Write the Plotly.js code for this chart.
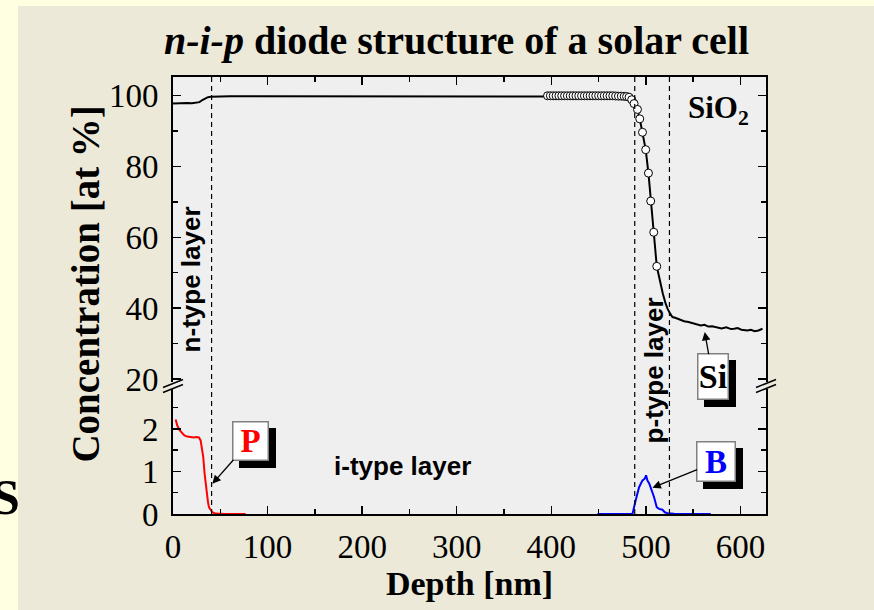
<!DOCTYPE html>
<html><head><meta charset="utf-8">
<script src="https://cdn.plot.ly/plotly-3.0.1.min.js"></script>
<style>
html,body{margin:0;padding:0;width:874px;height:610px;overflow:hidden;background:#ffffe1;}
#bg{position:absolute;left:18px;top:6px;right:0;bottom:0;background:#ece9d8;}
#chart{position:absolute;left:0;top:0;width:874px;height:610px;}
</style></head><body><div id="bg"></div><div id="chart"></div>
<script>
// Si concentration (upper axis), line
const siDepth = [0,5,10,15,20,25,28,31,34,37,40,44,50,60,80,100,120,140,160,200,250,300,350,400,440,465,471,477,479.6,482.2,485.0,487.5,491.1,493.5,496.4,499.8,502.7,505.1,508.3,511.5,515,518,521,523,526,528.1,531,535,540.4,545,550,555,558,562,566,570,575.6,580,585,590,593.2,597,601,604,607.3,611,615,619,621.4,623.3];
const siConc  = [97.7,97.8,97.8,97.9,97.8,97.9,98.1,98.7,99.2,99.5,99.6,99.7,99.7,99.8,99.8,99.9,99.8,99.9,99.8,99.9,99.9,99.9,99.9,99.9,99.9,99.9,99.8,99.8,99.7,99.5,98.8,97.7,96.05,93.4,89.6,84.7,78.1,70.2,61.4,51.8,47.3,44.0,41.2,39.8,38.3,37.5,37.3,36.9,36.3,36.1,35.7,35.3,35.1,35.3,34.8,34.9,34.5,34.3,34.6,34.1,34.2,34.4,33.9,33.8,33.7,33.9,33.5,33.7,33.9,34.2];
// Si measured points (open circles)
const circDepth = [396,399,402,405,408,411,414,417,420,423,426,429,432,435,438,441,444,447,450,453,456,459,462,465,468,471,474,477,479.6,482.2,485.0,487.5,491.1,493.5,496.4,499.8,502.7,505.1,508.3,511.5];
const circConc  = [99.9,99.9,99.9,99.9,99.9,99.9,99.9,99.9,99.9,99.9,99.9,99.9,99.9,99.9,99.9,99.9,99.9,99.9,99.9,99.9,99.9,99.9,99.9,99.9,99.85,99.8,99.8,99.75,99.7,99.5,98.8,97.7,96.05,93.4,89.6,84.7,78.1,70.2,61.4,51.8];
// P concentration (lower axis)
const pDepth = [2.8,4.5,7,9.8,12,15,18,22,25,27.4,29.2,30.5,32,33.4,34.5,35.5,37,38,40,41.5,44,46.8,55,65,76.8];
const pConc  = [2.22,2.08,1.97,1.89,1.85,1.82,1.81,1.80,1.81,1.80,1.73,1.58,1.34,0.95,0.70,0.48,0.28,0.16,0.08,0.04,0.02,0.01,0.0,0.0,0.0];
// B concentration (lower axis)
const bDepth = [448.7,470,485.8,489.2,492.8,496.4,498.8,500.2,501.6,503.5,505.1,508.6,511.5,514,517.5,520,522.8,529.8,545,568.6];
const bConc  = [0,0,0,0.32,0.63,0.79,0.83,0.91,0.79,0.72,0.63,0.40,0.16,0.12,0.10,0.04,0.02,0.005,0,0];
// layer boundaries
const boundaries = [40.8, 488.2, 524.9];
const xTicks = [0,100,200,300,400,500,600];

const serif = 'Liberation Serif, Times New Roman, serif';
const sans = 'Liberation Sans, Arial, sans-serif';
const XR = [0, 627];

const traces = [
  {x: siDepth, y: siConc, xaxis:'x2', yaxis:'y2', mode:'lines', line:{color:'black', width:2}, hoverinfo:'skip'},
  {x: circDepth, y: circConc, xaxis:'x2', yaxis:'y2', mode:'markers', marker:{symbol:'circle', size:8, color:'white', line:{color:'black', width:1}}},
  {x: pDepth, y: pConc, xaxis:'x', yaxis:'y', mode:'lines', line:{color:'#ff0000', width:2}},
  {x: bDepth, y: bConc, xaxis:'x', yaxis:'y', mode:'lines', line:{color:'#0000ff', width:2}}
];

const tickFont = {family: serif, size: 33, color: 'black'};
const axCommon = {showgrid:false, zeroline:false, showline:true, linecolor:'black', linewidth:2,
  ticks:'inside', ticklen:8, tickwidth:1.5, tickcolor:'black', tickfont: tickFont};

const shapes = [
  // fill the gap between the two y-domains with the plot background
  {type:'rect', xref:'paper', yref:'paper', x0:0, x1:1, y0:0.28, y1:0.306, fillcolor:'#efefef', line:{width:0}, layer:'below'}
];
boundaries.forEach(b => shapes.push({type:'line', xref:'x', yref:'paper', x0:b, x1:b, y0:0, y1:1,
  line:{color:'black', width:1.2, dash:'5px,4px'}}));
// axis break marks
const px = 1/593, py = 1/437;
[0,1].forEach(xc => {
  [[387,379],[392,384]].forEach(([a,b]) => {
    shapes.push({type:'line', xref:'paper', yref:'paper',
      x0: xc - 10*px, x1: xc + 10*px, y0: (513.5-a)*py, y1: (513.5-b)*py,
      line:{color:'black', width:1.5}});
  });
});

function boxPair(text, color, x, y, yref, ax, ay, w, h, fs) {
  return [
    {x:x, y:y, xref:'x', yref:yref, text:text, showarrow:true, ax:ax+7, ay:ay+7,
     arrowcolor:'rgba(0,0,0,0)', arrowwidth:0.1, bgcolor:'black', bordercolor:'black', borderwidth:1.5,
     borderpad:0, width:w, height:h, font:{family: serif, size:fs, color:'black', weight:'bold'}},
    {x:x, y:y, xref:'x', yref:yref, text:text, showarrow:true, ax:ax, ay:ay,
     arrowcolor:'black', arrowwidth:1.3, arrowhead:2, arrowsize:1.3, bgcolor:'white', bordercolor:'#808080', borderwidth:1.5,
     borderpad:0, width:w, height:h, font:{family: serif, size:fs, color:color, weight:'bold'}}
  ];
}

const annotations = [
  {xref:'paper', yref:'paper', x:0, y:0.525, xshift:-87, text:'Concentration [at %]', textangle:-90,
   showarrow:false, xanchor:'center', yanchor:'middle', font:{family:serif, size:39, color:'black', weight:'bold'}},
  {xref:'x', yref:'y2', x:18.6, y:48, text:'n-type layer', textangle:-90, showarrow:false, xanchor:'center', yanchor:'middle',
   font:{family:sans, size:26, color:'black', weight:'bold'}},
  {xref:'x', yref:'y2', x:508.4, y:22.4, text:'p-type layer', textangle:-90, showarrow:false, xanchor:'center', yanchor:'middle',
   font:{family:sans, size:26, color:'black', weight:'bold'}},
  {xref:'x', yref:'paper', x:243, y:0.109, text:'i-type layer', showarrow:false, xanchor:'center', yanchor:'middle',
   font:{family:sans, size:26, color:'black', weight:'bold'}},
  {xref:'x', yref:'y2', x:577, y:95.8, text:'SiO<sub>2</sub>', showarrow:false, xanchor:'center', yanchor:'middle',
   font:{family:serif, size:31, color:'black', weight:'bold'}},
  {xref:'paper', yref:'paper', x:-0.2552, y:0.038, xanchor:'right', yanchor:'middle', text:'S', showarrow:false,
   font:{family:serif, size:50, color:'black', weight:'bold'}},
  ...boxPair('P', '#ff0000', 41.6, 0.71, 'y', 38, -43, 34, 37, 33),
  ...boxPair('Si', 'black', 562.2, 33.3, 'y2', 8, 45, 29, 44, 34),
  ...boxPair('B', '#0000ff', 506.9, 0.617, 'y', 64, -26, 37, 38, 33)
];

const layout = {
  width: 874, height: 610,
  margin: {l:173, r:108, t:77, b:96, pad:0},
  paper_bgcolor: 'rgba(0,0,0,0)',
  plot_bgcolor: '#efefef',
  showlegend: false,
  title: {text:'<i>n-i-p</i> diode structure of a solar cell', font:{family:serif, size:40, color:'black', weight:'bold'},
    xref:'paper', x:0.478, xanchor:'center', yref:'container', y:0.935, yanchor:'middle'},
  xaxis: Object.assign({}, axCommon, {range:XR, anchor:'y', domain:[0,1], tickvals:xTicks, ticktext:xTicks.map(String),
    minor:{ticks:'inside', ticklen:5, tickwidth:1.5, tickcolor:'black', dtick:50, tick0:0, showgrid:false},
    ticklabelstandoff: 2,
    title:{text:'Depth [nm]', font:{family:serif, size:34, color:'black', weight:'bold'}, standoff:6}}),
  xaxis2: Object.assign({}, axCommon, {range:XR, anchor:'y2', overlaying:'x', matches:'x', side:'top', showticklabels:false,
    tickvals:xTicks,
    minor:{ticks:'inside', ticklen:5, tickwidth:1.5, tickcolor:'black', dtick:50, tick0:0, showgrid:false}}),
  yaxis: Object.assign({}, axCommon, {domain:[0,0.285], range:[0,2.929], anchor:'x', tickvals:[0,1,2], ticktext:['0','1','2'],
    mirror:'ticks', ticklabelstandoff:6,
    minor:{ticks:'inside', ticklen:5, tickwidth:1.5, tickcolor:'black', tickvals:[0.5,1.5,2.5], showgrid:false}}),
  yaxis2: Object.assign({}, axCommon, {domain:[0.301,1], range:[19.04,105.2], anchor:'x2', tickvals:[20,40,60,80,100],
    ticktext:['20','40','60','80','100'], mirror:'ticks', ticklabelstandoff:6,
    minor:{ticks:'inside', ticklen:5, tickwidth:1.5, tickcolor:'black', tickvals:[30,50,70,90], showgrid:false}}),
  shapes: shapes,
  annotations: annotations
};

Plotly.newPlot('chart', traces, layout, {displayModeBar:false, staticPlot:true});
</script></body></html>
